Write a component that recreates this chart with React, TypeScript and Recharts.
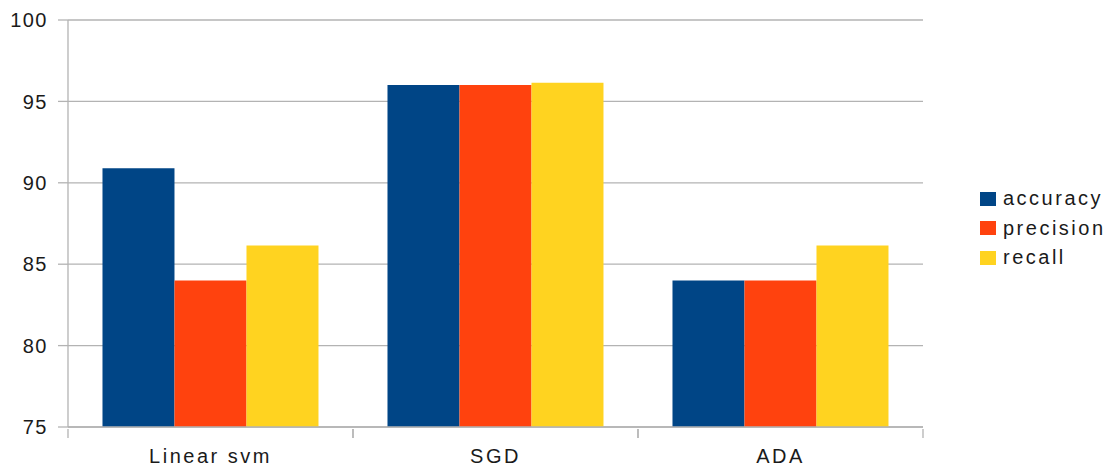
import * as React from "react"
import {
  BarChart,
  Bar,
  XAxis,
  YAxis,
  CartesianGrid,
} from "recharts"

const categories = ["Linear svm", "SGD", "ADA"]
const accuracy = [90.9, 96.0, 84.0]
const precision = [84.0, 96.0, 84.0]
const recall = [86.15, 96.15, 86.15]
const yTicks = [75, 80, 85, 90, 95, 100]

const series = [
  { key: "accuracy", label: "accuracy", color: "#004586" },
  { key: "precision", label: "precision", color: "#ff420e" },
  { key: "recall", label: "recall", color: "#ffd320" },
]

const data = categories.map((name, i) => ({
  name,
  accuracy: accuracy[i],
  precision: precision[i],
  recall: recall[i],
}))

const font = "'Liberation Sans', Arial, sans-serif"
const gridColor = "#b3b3b3"

// category label plus tick marks on the band edges
function CategoryTick(props: any) {
  const { x, y, payload } = props
  const half = payload?.offset ?? 0
  return (
    <g>
      <line x1={x - half} x2={x - half} y1={y} y2={y + 9} stroke={gridColor} strokeWidth={1.3} />
      <line x1={x + half} x2={x + half} y1={y} y2={y + 9} stroke={gridColor} strokeWidth={1.3} />
      <text
        x={x}
        y={y + 20}
        dy="0.71em"
        textAnchor="middle"
        fill="#1a1a1a"
        fontSize={20}
        fontFamily={font}
        letterSpacing={2.5}
      >
        {payload.value}
      </text>
    </g>
  )
}

function LegendBox() {
  return (
    <div
      style={{
        position: "absolute",
        left: 980,
        top: 184,
        fontFamily: font,
        fontSize: 20,
        letterSpacing: 2.5,
        color: "#1a1a1a",
      }}
    >
      {series.map((s) => (
        <div key={s.key} style={{ display: "flex", alignItems: "center", height: 29.5 }}>
          <span style={{ width: 16, height: 14, background: s.color, marginRight: 7 }} />
          <span>{s.label}</span>
        </div>
      ))}
    </div>
  )
}

export default function App() {
  return (
    <div style={{ position: "absolute", left: 0, top: 0, width: 1110, height: 468, background: "#fff" }}>
      <BarChart
        width={1110}
        height={468}
        data={data}
        margin={{ top: 20, right: 187, bottom: 0, left: 0 }}
        barCategoryGap="12.1%"
        barGap={0}
      >
        <CartesianGrid vertical={false} stroke={gridColor} strokeWidth={1.3} />
        <XAxis
          dataKey="name"
          height={41}
          tickSize={0}
          tickLine={false}
          axisLine={{ stroke: gridColor, strokeWidth: 1.3 }}
          tick={<CategoryTick />}
        />
        <YAxis
          width={68}
          domain={[75, 100]}
          ticks={yTicks}
          tickSize={10}
          tickMargin={10}
          axisLine={{ stroke: gridColor, strokeWidth: 1.3 }}
          tickLine={{ stroke: gridColor, strokeWidth: 1.3 }}
          tick={{ fill: "#1a1a1a", fontSize: 20, fontFamily: font, letterSpacing: 1.5 }}
        />
        <YAxis
          yAxisId="border"
          orientation="right"
          width={0}
          domain={[75, 100]}
          tick={false}
          tickLine={false}
          axisLine={{ stroke: gridColor, strokeWidth: 1.3 }}
        />
        {series.map((s) => (
          <Bar
            key={s.key}
            dataKey={s.key}
            name={s.label}
            fill={s.color}
            isAnimationActive={false}
          />
        ))}
      </BarChart>
      <LegendBox />
    </div>
  )
}
